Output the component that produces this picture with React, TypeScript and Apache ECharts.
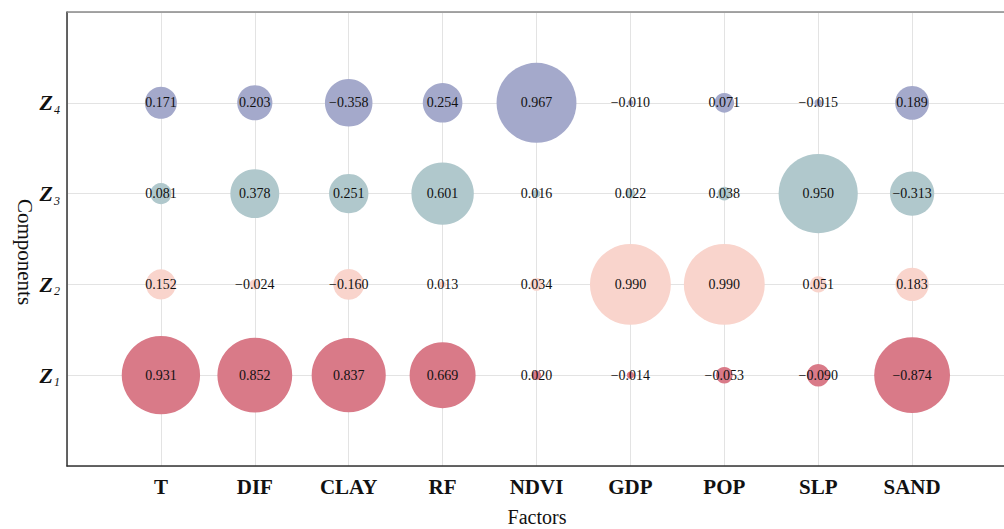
import React, { useEffect, useRef } from "react";
import * as echarts from "echarts";

const factors = ["T", "DIF", "CLAY", "RF", "NDVI", "GDP", "POP", "SLP", "SAND"];
const componentNames = ["1", "2", "3", "4"];
const z1 = [0.931, 0.852, 0.837, 0.669, 0.02, -0.014, -0.053, -0.09, -0.874];
const z2 = [0.152, -0.024, -0.16, 0.013, 0.034, 0.99, 0.99, 0.051, 0.183];
const z3 = [0.081, 0.378, 0.251, 0.601, 0.016, 0.022, 0.038, 0.95, -0.313];
const z4 = [0.171, 0.203, -0.358, 0.254, 0.967, -0.01, 0.071, -0.015, 0.189];
const colors = ["#d97a88", "#f9d4cc", "#b0c8cc", "#a4a9cb"];

const FONT = "'Liberation Serif', 'Times New Roman', serif";

function fmt(v: number) {
  const s = Math.abs(v).toFixed(3);
  return v < 0 ? "\u2212" + s : s;
}

export default function App() {
  const ref = useRef<HTMLDivElement>(null);
  useEffect(() => {
    if (!ref.current) return;
    const chart = echarts.init(ref.current, undefined, { renderer: "svg" });
    const rows = [z1, z2, z3, z4];
    const series = rows.map((vals, ri) => ({
      type: "scatter",
      name: "Z" + componentNames[ri],
      data: vals.map((v, i) => [i + 1, ri + 1, v]),
      symbolSize: (d: number[]) => Math.max(0, 84 * Math.sqrt(Math.abs(d[2])) - 2.7),
      itemStyle: { color: colors[ri], opacity: 1 },
      label: {
        show: true,
        position: "inside",
        formatter: (p: any) => fmt(p.value[2]),
        color: "#111",
        fontFamily: FONT,
        fontSize: 14,
      },
      emphasis: { disabled: true },
    }));
    chart.setOption({
      animation: false,
      grid: {
        left: 67,
        top: 12,
        width: 939,
        height: 454,
        containLabel: false,
        outerBoundsMode: "none",
      },
      xAxis: {
        type: "value",
        min: 0,
        max: 10,
        interval: 1,
        axisLine: { show: true, lineStyle: { color: "#333", width: 1.5 } },
        axisTick: { show: false },
        splitLine: { show: true, lineStyle: { color: "#e3e3e3", width: 1 } },
        axisLabel: {
          margin: 10,
          formatter: (v: number) => (v >= 1 && v <= 9 ? factors[v - 1] : ""),
          color: "#111",
          fontFamily: FONT,
          fontWeight: "bold",
          fontSize: 21,
        },
      },
      yAxis: {
        type: "value",
        min: 0,
        max: 5,
        interval: 1,
        axisLine: { show: true, lineStyle: { color: "#333", width: 1.5 } },
        axisTick: { show: false },
        splitLine: { show: true, lineStyle: { color: "#e3e3e3", width: 1 } },
        axisLabel: {
          margin: 7,
          formatter: (v: number) =>
            v >= 1 && v <= 4 ? `{z|Z}{s|${componentNames[v - 1]}}` : "",
          rich: {
            z: {
              fontFamily: FONT,
              fontWeight: "bold",
              fontStyle: "italic",
              fontSize: 22,
              color: "#111",
              lineHeight: 24,
              verticalAlign: "middle",
            },
            s: {
              fontFamily: FONT,
              fontStyle: "italic",
              fontSize: 12,
              color: "#111",
              padding: [14, 0, 0, 1],
              verticalAlign: "middle",
            },
          },
        },
      },
      graphic: [
        {
          type: "line",
          shape: { x1: 67, y1: 12, x2: 1004, y2: 12 },
          style: { stroke: "#888", lineWidth: 1.5 },
          z: 10,
        },
        {
          type: "text",
          x: 537,
          y: 517,
          style: {
            text: "Factors",
            fontFamily: FONT,
            fontSize: 20,
            fill: "#111",
            textAlign: "center",
            textVerticalAlign: "middle",
          },
        },
        {
          type: "text",
          x: 25,
          y: 252,
          rotation: -Math.PI / 2,
          style: {
            text: "Components",
            fontFamily: FONT,
            fontSize: 21,
            fill: "#111",
            textAlign: "center",
            textVerticalAlign: "middle",
          },
        },
      ],
      series,
    });
    return () => chart.dispose();
  }, []);
  return (
    <div
      ref={ref}
      style={{ position: "fixed", left: 0, top: 0, width: 1004, height: 529, background: "#fff" }}
    />
  );
}
